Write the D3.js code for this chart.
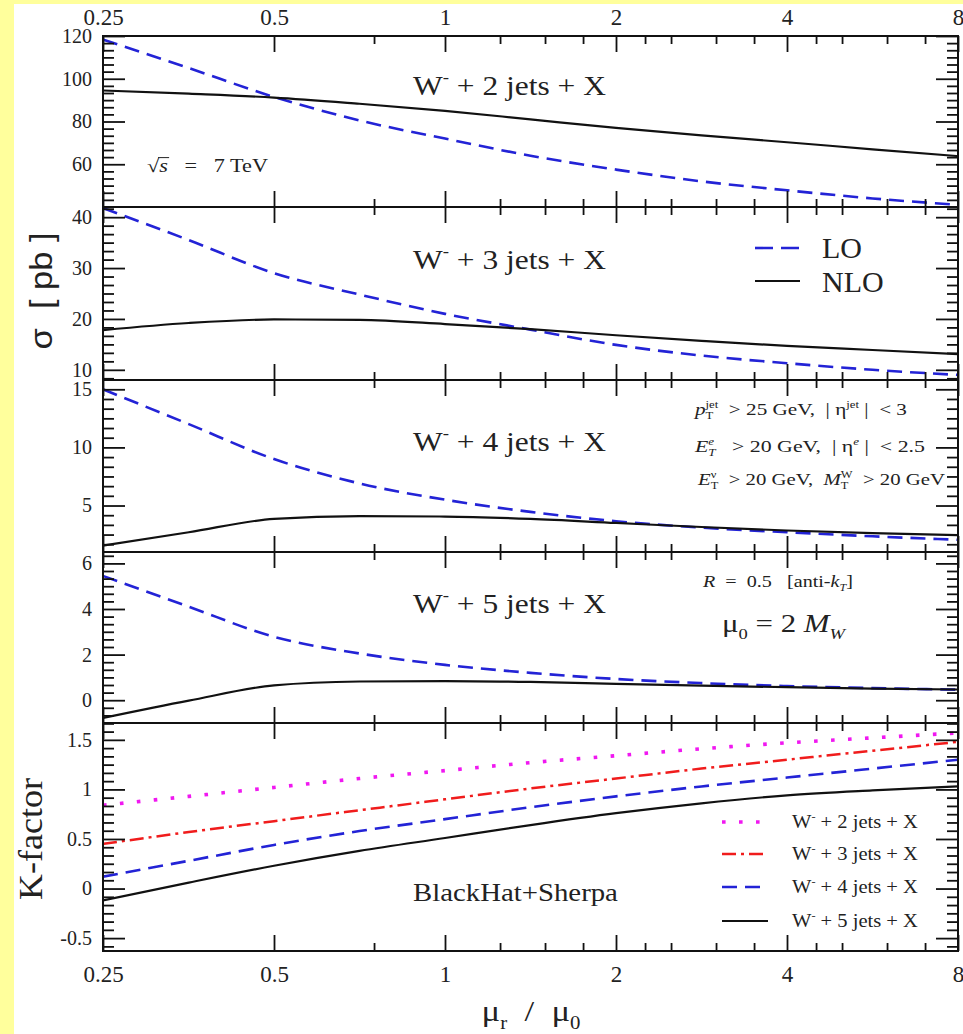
<!DOCTYPE html>
<html>
<head>
<meta charset="utf-8">
<script src="https://cdn.jsdelivr.net/npm/d3@7"></script>
<style>
  body { margin: 0; background: #fff; }
  text { white-space: pre; }
</style>
</head>
<body>
<svg id="chart" width="963" height="1034"></svg>
<script>
// Renormalisation scale mu_r / mu_0 at which every curve is sampled
const scaleRatios = [0.25, 0.354, 0.5, 0.707, 1, 1.414, 2, 2.828, 4, 5.657, 8];

// Cross sections [pb] for W- + n jets
const loW2  = [118.3, 105, 91.5, 80.5, 72, 64, 57.5, 52, 47.8, 44, 41];
const nloW2 = [94.5, 93, 91.2, 88.3, 85, 81, 77, 73.5, 70.3, 67, 63.8];
const loW3  = [41.8, 35.5, 29, 24.8, 21, 17.9, 14.9, 12.8, 11.3, 10.0, 9.0];
const nloW3 = [17.8, 19.2, 19.9, 19.8, 19.0, 18.0, 16.8, 15.7, 14.7, 13.9, 13.1];
const loW4  = [15.0, 12.0, 9.0, 6.9, 5.5, 4.45, 3.65, 3.1, 2.7, 2.35, 2.05];
const nloW4 = [1.55, 2.7, 3.85, 4.08, 4.05, 3.85, 3.5, 3.15, 2.85, 2.62, 2.45];
const loW5  = [5.45, 4.1, 2.78, 2.05, 1.55, 1.2, 0.93, 0.75, 0.62, 0.53, 0.46];
const nloW5 = [-0.78, -0.02, 0.65, 0.82, 0.84, 0.8, 0.72, 0.64, 0.57, 0.51, 0.47];

// K-factors NLO/LO
const kW2 = [0.84, 0.93, 1.02, 1.11, 1.19, 1.27, 1.34, 1.41, 1.47, 1.52, 1.57];
const kW3 = [0.45, 0.57, 0.68, 0.79, 0.90, 1.01, 1.11, 1.21, 1.30, 1.39, 1.48];
const kW4 = [0.12, 0.28, 0.44, 0.58, 0.70, 0.82, 0.93, 1.03, 1.12, 1.21, 1.30];
const kW5 = [-0.12, 0.06, 0.23, 0.38, 0.51, 0.64, 0.76, 0.86, 0.94, 0.99, 1.03];

// Axis ticks
const xMajorTicks = [0.25, 0.5, 1, 2, 4, 8];
const xMinorTicks = [0.75, 1.25, 1.5, 1.75, 2.25, 2.5, 3, 3.5, 4.5, 5, 6, 7];
const yTicksW2 = [60, 80, 100, 120];
const yTicksW3 = [10, 20, 30, 40];
const yTicksW4 = [5, 10, 15];
const yTicksW5 = [0, 2, 4, 6];
const yTicksK  = [-0.5, 0, 0.5, 1, 1.5];
const jetCounts = [2, 3, 4, 5];

const SERIF = "'Liberation Serif', 'Times New Roman', serif";
const SANS = "'Liberation Sans', Arial, sans-serif";
const BLUE = "#2323d6", RED = "#f01c1c", PINK = "#f018f0", BLACK = "#111";

const svg = d3.select("#chart");
svg.append("rect").attr("width", 963).attr("height", 1034).attr("fill", "#ffff9c");
svg.append("rect").attr("x", 14).attr("y", 4).attr("width", 949).attr("height", 1030).attr("fill", "#fff");

const left = 103, right = 958;
const x = d3.scaleLog().base(2).domain([0.25, 8]).range([left, right]);

const styles = {
  lo:  { stroke: BLUE, width: 2.6, dash: "15,8" },
  nlo: { stroke: BLACK, width: 2.2, dash: null },
  k2:  { stroke: PINK, width: 3.6, dash: "3.6,13.4" },
  k3:  { stroke: RED, width: 2.5, dash: "14,5,3,5" },
  k4:  { stroke: BLUE, width: 2.6, dash: "15,8" },
  k5:  { stroke: BLACK, width: 2.2, dash: null }
};

const panels = [
  { top: 36,  bottom: 207, domain: [40, 120],   ticks: yTicksW2, step: 20,  series: [[loW2, "lo"], [nloW2, "nlo"]] },
  { top: 207, bottom: 380, domain: [8, 42],     ticks: yTicksW3, step: 10,  series: [[loW3, "lo"], [nloW3, "nlo"]] },
  { top: 380, bottom: 552, domain: [1, 15.8],   ticks: yTicksW4, step: 5,   series: [[loW4, "lo"], [nloW4, "nlo"]] },
  { top: 552, bottom: 723, domain: [-1, 6.5],   ticks: yTicksW5, step: 2,   series: [[loW5, "lo"], [nloW5, "nlo"]] },
  { top: 723, bottom: 951, domain: [-0.63, 1.67], ticks: yTicksK, step: 0.5,
    series: [[kW2, "k2"], [kW3, "k3"], [kW4, "k4"], [kW5, "k5"]] }
];

function minorTicks(domain, step) {
  const m = step / 6, out = [];
  const k0 = Math.ceil(domain[0] / m - 1e-9), k1 = Math.floor(domain[1] / m + 1e-9);
  for (let k = k0; k <= k1; k++) if (k % 6 !== 0) out.push(+(k * m).toFixed(6));
  return out;
}

function styleAxis(g, size) {
  g.attr("font-family", SERIF).attr("font-size", size);
  g.select(".domain").remove();
  g.selectAll(".tick line").attr("stroke", BLACK).attr("stroke-width", 1.8);
  g.selectAll(".tick text").attr("fill", "#222").attr("font-family", SERIF);
}

panels.forEach((p, i) => {
  const y = d3.scaleLinear().domain(p.domain).range([p.bottom, p.top]);
  const g = svg.append("g");
  const clipId = "clip" + i;
  g.append("clipPath").attr("id", clipId).append("rect")
    .attr("x", left).attr("y", p.top).attr("width", right - left).attr("height", p.bottom - p.top);

  const line = d3.line()
    .x(d => x(d[0])).y(d => y(d[1]))
    .curve(d3.curveMonotoneX);

  const curves = g.append("g").attr("clip-path", `url(#${clipId})`);
  p.series.forEach(([vals, key]) => {
    const s = styles[key];
    curves.append("path")
      .datum(scaleRatios.map((r, j) => [r, vals[j]]))
      .attr("d", line).attr("fill", "none")
      .attr("stroke", s.stroke).attr("stroke-width", s.width)
      .attr("stroke-dasharray", s.dash);
  });

  // left and right axes with inward ticks
  const minors = minorTicks(p.domain, p.step);
  g.append("g").attr("transform", `translate(${left},0)`)
    .call(d3.axisLeft(y).tickValues(p.ticks).tickSize(-22).tickPadding(11).tickFormat(d => String(d)))
    .call(a => styleAxis(a, 20));
  g.append("g").attr("transform", `translate(${left},0)`)
    .call(d3.axisLeft(y).tickValues(minors).tickSize(-11).tickFormat(""))
    .call(a => styleAxis(a, 20));
  g.append("g").attr("transform", `translate(${right},0)`)
    .call(d3.axisRight(y).tickValues(p.ticks).tickSize(-22).tickFormat(""))
    .call(a => styleAxis(a, 20));
  g.append("g").attr("transform", `translate(${right},0)`)
    .call(d3.axisRight(y).tickValues(minors).tickSize(-11).tickFormat(""))
    .call(a => styleAxis(a, 20));

  // top and bottom axes with inward ticks
  g.append("g").attr("transform", `translate(0,${p.top})`)
    .call(d3.axisTop(x).tickValues(xMajorTicks).tickSize(-16).tickPadding(11)
      .tickFormat(i === 0 ? (d => String(d)) : ""))
    .call(a => styleAxis(a, 23));
  g.append("g").attr("transform", `translate(0,${p.top})`)
    .call(d3.axisTop(x).tickValues(xMinorTicks).tickSize(-8).tickFormat(""))
    .call(a => styleAxis(a, 23));
  g.append("g").attr("transform", `translate(0,${p.bottom})`)
    .call(d3.axisBottom(x).tickValues(xMajorTicks).tickSize(-16).tickPadding(15)
      .tickFormat(i === panels.length - 1 ? (d => String(d)) : ""))
    .call(a => styleAxis(a, 23));
  g.append("g").attr("transform", `translate(0,${p.bottom})`)
    .call(d3.axisBottom(x).tickValues(xMinorTicks).tickSize(-8).tickFormat(""))
    .call(a => styleAxis(a, 23));

  g.append("rect").attr("x", left).attr("y", p.top)
    .attr("width", right - left).attr("height", p.bottom - p.top)
    .attr("fill", "none").attr("stroke", BLACK).attr("stroke-width", 2);
});

// Text with sub/superscripts laid out piece by piece; opt.w stretches it to a given width
function rich(parent, segs, opt) {
  const size = opt.size, fam = opt.family || SERIF, small = size * 0.6;
  const outer = parent.append("g")
    .attr("transform", `translate(${opt.x},${opt.y})` + (opt.rotate ? ` rotate(${opt.rotate})` : ""));
  const g = outer.append("g");
  let cx = 0;
  const piece = (t, px, py, sz, italic) => {
    const el = g.append("text").attr("x", px).attr("y", py)
      .attr("font-size", sz).attr("font-family", fam).attr("fill", opt.fill || "#222")
      .attr("font-style", italic ? "italic" : null).text(t);
    return el.node().getComputedTextLength();
  };
  segs.forEach(s => {
    if (s.t !== undefined) {
      const w = piece(s.t, cx, 0, size, s.i);
      if (s.over) {
        g.append("line").attr("x1", cx - 1).attr("x2", cx + w + 1)
          .attr("y1", -size * 0.8).attr("y2", -size * 0.8)
          .attr("stroke", "#222").attr("stroke-width", 1);
      }
      cx += w;
    } else {
      let w = 0;
      if (s.sub !== undefined) w = Math.max(w, piece(s.sub, cx, size * 0.28, small, s.si));
      if (s.sup !== undefined) w = Math.max(w, piece(s.sup, cx, -size * 0.42, small, s.si));
      cx += w;
    }
  });
  const sx = opt.w ? opt.w / cx : 1;
  const total = cx * sx;
  let off = 0;
  if (opt.anchor === "middle") off = -total / 2;
  else if (opt.anchor === "end") off = -total;
  g.attr("transform", `translate(${off},0) scale(${sx},1)`);
  return total;
}

// Panel titles
const titleBaselines = [95, 269, 451, 613];
jetCounts.forEach((n, i) => {
  rich(svg, [{ t: "W" }, { sup: "-" }, { t: ` + ${n} jets + X` }],
    { x: 413, y: titleBaselines[i], size: 28, w: 193 });
});

// Annotations
rich(svg, [{ t: "√" }, { t: "s", i: true, over: true }, { t: "   =   7 TeV" }], { x: 147, y: 172, size: 18, w: 121 });

rich(svg, [{ t: "p", i: true }, { sub: "T", sup: "jet" }, { t: "  > 25 GeV,  | η" }, { sup: "jet" }, { t: " |  < 3" }],
  { x: 695, y: 415, size: 16, w: 212 });
rich(svg, [{ t: "E", i: true }, { sub: "T", sup: "e", si: true }, { t: "   > 20 GeV,  | η" }, { sup: "e", si: true }, { t: " |  < 2.5" }],
  { x: 695, y: 452, size: 16, w: 230 });
rich(svg, [{ t: "E", i: true }, { sub: "T", sup: "ν" }, { t: "  > 20 GeV,  " }, { t: "M", i: true }, { sub: "T", sup: "W" }, { t: "  > 20 GeV" }],
  { x: 698, y: 485, size: 16, w: 247 });
rich(svg, [{ t: "R", i: true }, { t: "  =  0.5   [anti-" }, { t: "k", i: true }, { sub: "T", si: true }, { t: "]" }],
  { x: 703, y: 587, size: 16, w: 150 });
rich(svg, [{ t: "μ" }, { sub: "0" }, { t: " = 2 " }, { t: "M", i: true }, { sub: "W", si: true }],
  { x: 722, y: 632, size: 25, w: 123 });

rich(svg, [{ t: "BlackHat+Sherpa" }], { x: 413, y: 901, size: 26, w: 205 });

// LO / NLO legend
const ratioLegend = [["LO", "lo", 248, 258], ["NLO", "nlo", 281, 292]];
ratioLegend.forEach(([label, key, ly, ty]) => {
  const s = styles[key];
  svg.append("line").attr("x1", 755).attr("x2", 800).attr("y1", ly).attr("y2", ly)
    .attr("stroke", s.stroke).attr("stroke-width", s.width)
    .attr("stroke-dasharray", key === "lo" ? "18,8" : null);
  rich(svg, [{ t: label }], { x: 822, y: ty, size: 30 });
});

// K-factor legend
const kKeys = ["k2", "k3", "k4", "k5"];
const kLegendLines = [822, 854, 887, 921];
jetCounts.forEach((n, i) => {
  const s = styles[kKeys[i]];
  svg.append("line").attr("x1", 722).attr("x2", 768)
    .attr("y1", kLegendLines[i]).attr("y2", kLegendLines[i])
    .attr("stroke", s.stroke).attr("stroke-width", s.width)
    .attr("stroke-dasharray", s.dash);
  rich(svg, [{ t: "W" }, { sup: "-" }, { t: ` + ${n} jets + X` }],
    { x: 792, y: kLegendLines[i] + 6, size: 19, w: 126 });
});

// Axis titles
rich(svg, [{ t: "μ" }, { sub: "r" }, { t: "  /  μ" }, { sub: "0" }], { x: 531, y: 1021, size: 30, anchor: "middle", w: 99 });
rich(svg, [{ t: "σ  [ pb ]" }], { x: 52, y: 291, size: 32, family: SANS, anchor: "middle", rotate: -90, w: 117 });
rich(svg, [{ t: "K-factor" }], { x: 42, y: 839, size: 34, anchor: "middle", rotate: -90, w: 122 });
</script>
</body>
</html>
